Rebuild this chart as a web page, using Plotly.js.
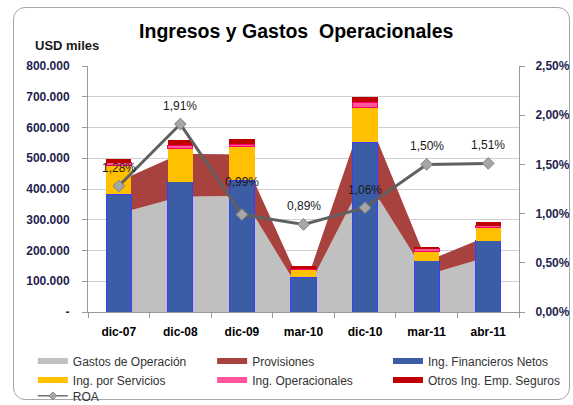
<!DOCTYPE html>
<html><head><meta charset="utf-8">
<script src="https://cdn.plot.ly/plotly-3.0.1.min.js"></script>
<style>
html,body{margin:0;padding:0;background:#fff;}
#frame{position:absolute;left:13px;top:7px;width:557px;height:393px;border:1px solid #a6a6a6;border-radius:12px;box-sizing:border-box;}
#chart{position:absolute;left:0;top:0;width:573px;height:405px;}
</style></head><body>
<div id="frame"></div>
<div id="chart"></div>
<script>
const categories = ['dic-07', 'dic-08', 'dic-09', 'mar-10', 'dic-10', 'mar-11', 'abr-11'];
const gastosOperacion = [320000, 375000, 378000, 50000, 440000, 120000, 180000];
const provisiones = [105000, 140000, 134000, 20000, 215000, 45000, 67000];
const ingFinancierosNetos = [383000, 424000, 429000, 113000, 552000, 167000, 232000];
const ingServicios = [95000, 108000, 109000, 25000, 114000, 31000, 42000];
const ingOperacionales = [7500, 11000, 8000, 3000, 16000, 7000, 7000];
const otrosIngSeguros = [12000, 16000, 17000, 10000, 16000, 7000, 11000];
const roa = [0.0128, 0.0191, 0.0099, 0.0089, 0.0106, 0.0150, 0.0151];
const leftTickValues = [0, 100000, 200000, 300000, 400000, 500000, 600000, 700000, 800000];
const leftTickLabels = ['-', '100.000', '200.000', '300.000', '400.000', '500.000', '600.000', '700.000', '800.000'];
const rightTickValues = [0, 0.005, 0.01, 0.015, 0.02, 0.025];
const rightTickLabels = ['0,00%', '0,50%', '1,00%', '1,50%', '2,00%', '2,50%'];

const FONT = 'Liberation Sans, Arial, sans-serif';
const C = {
  gray: '#C0C0C0', brown: '#A8423F', blue: '#3A5DA5', blueLine: '#3D3DFF',
  yellow: '#FFC000', pink: '#FF5599', pinkLine: '#FF0066', red: '#C00000'
};

const traces = [
  {type: 'scatter', x: categories, y: gastosOperacion, stackgroup: 'areas', mode: 'none',
   fillcolor: C.gray, name: 'Gastos de Operación', legend: 'legend', xaxis: 'x', yaxis: 'y'},
  {type: 'scatter', x: categories, y: provisiones, stackgroup: 'areas', mode: 'none',
   fillcolor: C.brown, name: 'Provisiones', legend: 'legend2', xaxis: 'x', yaxis: 'y'},
  {type: 'bar', x: categories, y: ingFinancierosNetos, name: 'Ing. Financieros Netos', showlegend: false,
   marker: {color: C.blue, line: {color: C.blueLine, width: 1}}, xaxis: 'x', yaxis: 'y2'},
  {type: 'bar', x: categories, y: ingServicios, name: 'Ing. por Servicios', showlegend: false,
   marker: {color: C.yellow, line: {width: 0}}, xaxis: 'x', yaxis: 'y2'},
  {type: 'bar', x: categories, y: ingOperacionales, name: 'Ing. Operacionales', showlegend: false,
   marker: {color: C.pink, line: {color: C.pinkLine, width: 1}}, xaxis: 'x', yaxis: 'y2'},
  {type: 'bar', x: categories, y: otrosIngSeguros, name: 'Otros Ing. Emp. Seguros', showlegend: false,
   marker: {color: C.red, line: {width: 0}}, xaxis: 'x', yaxis: 'y2'},
  // legend-only entries for the stacked bars and the ROA line
  {type: 'scatter', x: [null], y: [null], mode: 'none', fill: 'toself', fillcolor: C.blue,
   name: 'Ing. Financieros Netos', legend: 'legend3', xaxis: 'x', yaxis: 'y'},
  {type: 'scatter', x: [null], y: [null], mode: 'none', fill: 'toself', fillcolor: C.yellow,
   name: 'Ing. por Servicios', legend: 'legend', xaxis: 'x', yaxis: 'y'},
  {type: 'scatter', x: [null], y: [null], mode: 'none', fill: 'toself', fillcolor: C.pink,
   name: 'Ing. Operacionales', legend: 'legend2', xaxis: 'x', yaxis: 'y'},
  {type: 'scatter', x: [null], y: [null], mode: 'none', fill: 'toself', fillcolor: C.red,
   name: 'Otros Ing. Emp. Seguros', legend: 'legend3', xaxis: 'x', yaxis: 'y'},
  {type: 'scatter', x: [null], y: [null], mode: 'lines+markers', name: 'ROA', legend: 'legend4',
   line: {color: '#707070', width: 1.5},
   marker: {symbol: 'diamond', size: 6, color: '#A6A6A6', line: {color: '#808080', width: 1}},
   xaxis: 'x', yaxis: 'y3'},
  {type: 'scatter', x: categories, y: roa, name: 'ROA', mode: 'lines+markers', showlegend: false,
   line: {color: '#606060', width: 3},
   marker: {symbol: 'diamond', size: 9, color: '#A6A6A6', line: {color: '#808080', width: 1}},
   xaxis: 'x', yaxis: 'y3'}
];

const fmtPct = v => (v * 100).toFixed(2).replace('.', ',') + '%';
const annotations = roa.map((v, i) => ({
  x: categories[i], y: v, xref: 'x', yref: 'y3', text: fmtPct(v), showarrow: false,
  yanchor: 'middle', yshift: i === 2 ? 33 : 18,
  font: {family: FONT, size: 12, color: '#1a1a1a'}
}));
annotations.push({
  xref: 'paper', yref: 'paper', x: -0.128, y: 1.085, xanchor: 'left', yanchor: 'middle',
  text: 'USD miles', showarrow: false, font: {family: FONT, size: 13, color: '#1a1a1a', weight: 'bold'}
});

const legendBase = {
  orientation: 'v', xanchor: 'left', yanchor: 'top', y: -0.14,
  bgcolor: 'rgba(0,0,0,0)', font: {family: FONT, size: 12, color: '#333333'},
  itemwidth: 30, traceorder: 'normal'
};

const axisLine = '#9A9A9A';
const layout = {
  width: 573, height: 405,
  margin: {l: 88, r: 54, t: 66, b: 93, autoexpand: false},
  paper_bgcolor: 'rgba(0,0,0,0)', plot_bgcolor: 'rgba(0,0,0,0)',
  title: {text: 'Ingresos y Gastos  Operacionales', x: 0.517, xanchor: 'center',
          xref: 'container', yref: 'container', y: 0.923, yanchor: 'middle',
          font: {family: FONT, size: 19.5, color: '#000', weight: 'bold'}},
  barmode: 'stack', bargap: 0.59,
  showlegend: true,
  legend: Object.assign({}, legendBase, {x: -0.128}),
  legend2: Object.assign({}, legendBase, {x: 0.288}),
  legend3: Object.assign({}, legendBase, {x: 0.696}),
  legend4: Object.assign({}, legendBase, {x: -0.128, y: -0.282}),
  xaxis: {type: 'category', categoryarray: categories, range: [-0.5, 6.5],
          showline: true, linecolor: axisLine, ticks: 'outside', tickson: 'boundaries',
          ticklen: 5, tickcolor: axisLine, showgrid: false, zeroline: false, ticklabelstandoff: 9,
          tickfont: {family: FONT, size: 12, color: '#000', weight: 'bold'}},
  yaxis: {range: [0, 800000], tickvals: leftTickValues, ticktext: leftTickLabels,
          showline: true, linecolor: axisLine, ticks: 'outside', ticklen: 5, tickcolor: axisLine,
          showgrid: true, gridcolor: '#CFCFCF', gridwidth: 1, zeroline: false,
          tickfont: {family: FONT, size: 12, color: '#1F1F4F', weight: 'bold'}, ticklabelstandoff: 10},
  yaxis2: {range: [0, 800000], overlaying: 'y', visible: false},
  yaxis3: {range: [0, 0.025], overlaying: 'y', side: 'right', anchor: 'x',
           tickvals: rightTickValues, ticktext: rightTickLabels,
           showline: true, linecolor: axisLine, ticks: 'outside', ticklen: 5, tickcolor: axisLine,
           showgrid: false, zeroline: false, ticklabelstandoff: 8,
           tickfont: {family: FONT, size: 12, color: '#1F1F4F', weight: 'bold'}},
  annotations: annotations
};

Plotly.newPlot('chart', traces, layout, {staticPlot: true, displayModeBar: false});
</script>
</body></html>
